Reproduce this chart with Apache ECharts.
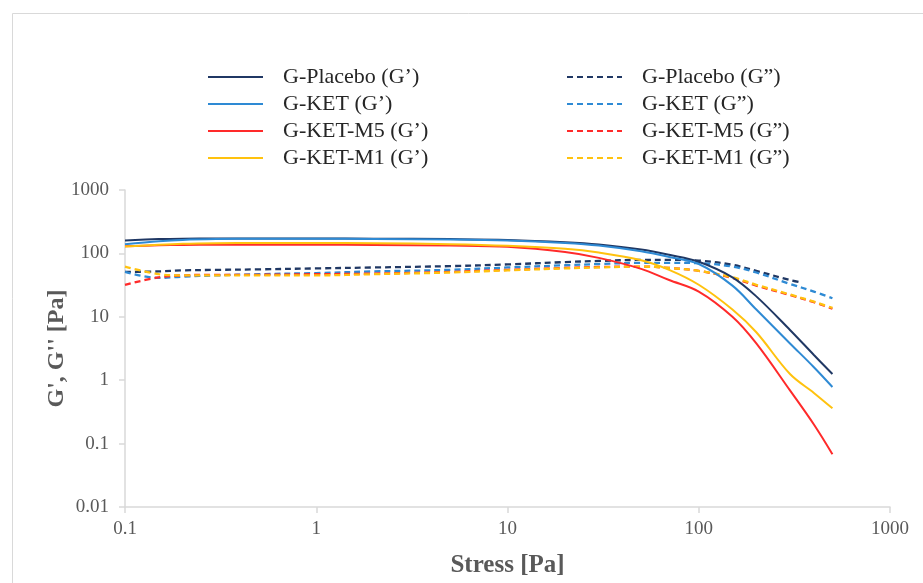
<!DOCTYPE html>
<html>
<head>
<meta charset="utf-8">
<script src="https://cdn.jsdelivr.net/npm/echarts@6/dist/echarts.min.js"></script>
<style>
  html, body { margin: 0; padding: 0; background: #fff; }
  #chart { width: 923px; height: 583px; }
</style>
</head>
<body>
<div id="chart"></div>
<script>
// Stress sweep points [Pa]
const stress = [0.1, 0.15, 0.2, 0.3, 0.5, 1, 2, 5, 10, 20, 30, 50, 70, 100, 150, 200, 300, 400, 500];
// Placebo loss modulus stops earlier
const stressPlaceboG2 = [0.1, 0.15, 0.2, 0.3, 0.5, 1, 2, 5, 10, 20, 30, 50, 70, 100, 150, 200, 300, 340];

// Storage modulus G' [Pa]
const placeboG1 = [160, 168, 171, 172, 172, 172, 171, 168, 163, 150, 138, 115, 95, 74, 42, 21, 6.2, 2.5, 1.25];
const ketG1     = [140, 155, 163, 168, 170, 170, 169, 166, 160, 146, 133, 108, 88, 68, 31, 13, 3.8, 1.6, 0.78];
const ketM5G1   = [130, 134, 136, 137, 137, 137, 136, 133, 127, 105, 85, 57, 38, 25, 10, 3.8, 0.69, 0.2, 0.068];
const ketM1G1   = [128, 137, 142, 145, 146, 146, 145, 140, 132, 118, 103, 78, 55, 32, 13, 5.7, 1.25, 0.63, 0.36];

// Loss modulus G'' [Pa]
const placeboG2 = [51, 52, 54, 55, 56, 58, 60, 63, 67, 73, 76, 79, 79, 77, 66, 53, 38, 35];
const ketG2     = [51, 41, 43, 45, 47, 49, 52, 55, 60, 65, 68, 71, 71, 70, 62, 50, 33, 25, 19.6];
const ketM5G2   = [32, 42, 45, 46, 46, 47, 48, 51, 55, 59, 61, 62, 59, 53, 41, 31, 22, 17, 13.4];
const ketM1G2   = [62, 47, 45, 45, 45, 45, 47, 50, 54, 58, 60, 62, 59, 53, 42, 32, 22.5, 17.3, 13.8];

const xTicks = ['0.1', '1', '10', '100', '1000'];
const yTicks = ['0.01', '0.1', '1', '10', '100', '1000'];

const names = {
  placeboG1: 'G-Placebo (G\u2019)', ketG1: 'G-KET (G\u2019)', ketM5G1: 'G-KET-M5 (G\u2019)', ketM1G1: 'G-KET-M1 (G\u2019)',
  placeboG2: 'G-Placebo (G\u201d)', ketG2: 'G-KET (G\u201d)', ketM5G2: 'G-KET-M5 (G\u201d)', ketM1G2: 'G-KET-M1 (G\u201d)'
};

const NAVY = '#203864', BLUE = '#2e8ad4', RED = '#ff2a2a', YELLOW = '#ffc20e';
const SERIF = '"Liberation Serif", "DejaVu Serif", serif';

function pairs(xs, ys) { return xs.map((x, i) => [x, ys[i]]); }

function line(name, xs, ys, color, dashed) {
  return {
    name: name,
    type: 'line',
    data: pairs(xs, ys),
    smooth: 0.35,
    symbol: 'none',
    showSymbol: false,
    lineStyle: { color: color, width: dashed ? 2.3 : 2, type: dashed ? [6, 4] : 'solid' },
    itemStyle: { color: color },
    emphasis: { disabled: true },
    z: dashed ? 2 : 3
  };
}

const chart = echarts.init(document.getElementById('chart'), null, { renderer: 'canvas' });

// legend shows only the line sample (the marker is hidden)
const legendBase = {
  orient: 'vertical',
  itemWidth: 55,
  itemHeight: 14,
  itemGap: 5,
  selectedMode: false,
  itemStyle: { opacity: 0 },
  textStyle: { fontFamily: SERIF, fontSize: 22, color: '#262626', padding: [0, 0, 0, 15] }
};

chart.setOption({
  animation: false,
  backgroundColor: '#ffffff',
  graphic: [{
    type: 'rect',
    shape: { x: 12.5, y: 13.5, width: 1000, height: 1000 },
    style: { fill: 'none', stroke: '#d9d9d9', lineWidth: 1 },
    silent: true
  }],
  legend: [
    Object.assign({}, legendBase, {
      left: 202, top: 61,
      data: [names.placeboG1, names.ketG1, names.ketM5G1, names.ketM1G1]
    }),
    Object.assign({}, legendBase, {
      left: 561, top: 61,
      data: [names.placeboG2, names.ketG2, names.ketM5G2, names.ketM1G2]
    })
  ],
  grid: { left: 125, right: 33, top: 190, bottom: 76, containLabel: false },
  xAxis: {
    type: 'log',
    logBase: 10,
    min: 0.1,
    max: 1000,
    name: 'Stress [Pa]',
    nameLocation: 'middle',
    nameGap: 46,
    nameMoveOverlap: false,
    nameTextStyle: { fontFamily: SERIF, fontSize: 25, fontWeight: 'bold', color: '#595959' },
    axisLine: { lineStyle: { color: '#d9d9d9', width: 1.5 } },
    axisTick: { show: true, inside: false, length: 6, lineStyle: { color: '#d9d9d9', width: 1.5 } },
    minorTick: { show: false },
    splitLine: { show: false },
    axisLabel: {
      fontFamily: SERIF, fontSize: 19, color: '#595959', margin: 13,
      formatter: function (v) {
        const k = Math.round(Math.log10(v)) + 1;
        return xTicks[k] !== undefined ? xTicks[k] : '';
      }
    }
  },
  yAxis: {
    type: 'log',
    logBase: 10,
    min: 0.01,
    max: 1000,
    name: "G', G'' [Pa]",
    nameLocation: 'middle',
    nameGap: 56,
    nameMoveOverlap: false,
    nameRotate: 90,
    nameTextStyle: { fontFamily: SERIF, fontSize: 24, fontWeight: 'bold', color: '#595959' },
    axisLine: { show: true, lineStyle: { color: '#d9d9d9', width: 1.5 } },
    axisTick: { show: true, inside: false, length: 6, lineStyle: { color: '#d9d9d9', width: 1.5 } },
    splitLine: { show: false },
    axisLabel: {
      fontFamily: SERIF, fontSize: 19, color: '#595959', margin: 16,
      formatter: function (v) {
        const k = Math.round(Math.log10(v)) + 2;
        return yTicks[k] !== undefined ? yTicks[k] : '';
      }
    }
  },
  series: [
    line(names.placeboG1, stress, placeboG1, NAVY, false),
    line(names.ketG1, stress, ketG1, BLUE, false),
    line(names.ketM5G1, stress, ketM5G1, RED, false),
    line(names.ketM1G1, stress, ketM1G1, YELLOW, false),
    line(names.placeboG2, stressPlaceboG2, placeboG2, NAVY, true),
    line(names.ketG2, stress, ketG2, BLUE, true),
    line(names.ketM5G2, stress, ketM5G2, RED, true),
    line(names.ketM1G2, stress, ketM1G2, YELLOW, true)
  ]
});
</script>
</body>
</html>
